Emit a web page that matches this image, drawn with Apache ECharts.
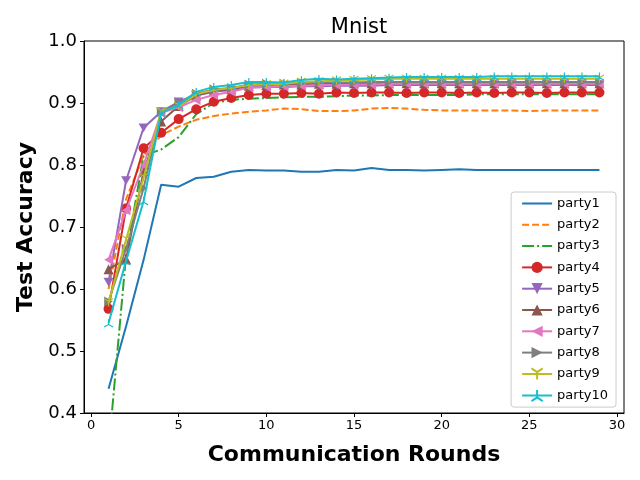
<!DOCTYPE html>
<html>
<head>
<meta charset="utf-8">
<script src="https://cdn.jsdelivr.net/npm/echarts@6/dist/echarts.min.js"></script>
<style>
    html, body { margin: 0; padding: 0; background: #fff; }
    #chart { width: 640px; height: 480px; }
</style>
</head>
<body>
<div id="chart"></div>
<script>
var rounds = [1, 2, 3, 4, 5, 6, 7, 8, 9, 10, 11, 12, 13, 14, 15, 16, 17, 18, 19, 20, 21, 22, 23, 24, 25, 26, 27, 28, 29];
var xTicks = [0, 5, 10, 15, 20, 25, 30];

var party1 = [0.439, 0.540, 0.647, 0.768, 0.765, 0.779, 0.781, 0.789, 0.792, 0.791, 0.791, 0.789, 0.789, 0.792, 0.791, 0.795, 0.792, 0.792, 0.791, 0.792, 0.793, 0.792, 0.792, 0.792, 0.792, 0.792, 0.792, 0.792, 0.792];
var party2 = [0.600, 0.745, 0.815, 0.848, 0.862, 0.873, 0.879, 0.883, 0.886, 0.888, 0.891, 0.890, 0.887, 0.887, 0.888, 0.891, 0.892, 0.891, 0.889, 0.888, 0.888, 0.888, 0.888, 0.888, 0.887, 0.888, 0.888, 0.888, 0.888];
var party3 = [0.340, 0.655, 0.815, 0.825, 0.845, 0.882, 0.900, 0.905, 0.907, 0.908, 0.909, 0.910, 0.910, 0.911, 0.912, 0.912, 0.913, 0.913, 0.913, 0.913, 0.913, 0.914, 0.914, 0.914, 0.914, 0.914, 0.914, 0.914, 0.914];
var party4 = [0.568, 0.730, 0.827, 0.852, 0.874, 0.890, 0.902, 0.908, 0.913, 0.915, 0.915, 0.916, 0.915, 0.917, 0.916, 0.917, 0.917, 0.916, 0.917, 0.917, 0.916, 0.917, 0.916, 0.917, 0.917, 0.916, 0.917, 0.917, 0.917];
var party5 = [0.611, 0.775, 0.860, 0.886, 0.902, 0.912, 0.918, 0.921, 0.925, 0.926, 0.926, 0.927, 0.927, 0.928, 0.928, 0.928, 0.929, 0.929, 0.929, 0.929, 0.929, 0.929, 0.929, 0.929, 0.929, 0.929, 0.929, 0.929, 0.929];
var party6 = [0.632, 0.648, 0.790, 0.870, 0.895, 0.912, 0.920, 0.922, 0.928, 0.929, 0.930, 0.930, 0.931, 0.931, 0.932, 0.932, 0.932, 0.932, 0.932, 0.932, 0.932, 0.932, 0.932, 0.932, 0.932, 0.932, 0.932, 0.932, 0.932];
var party7 = [0.647, 0.727, 0.800, 0.884, 0.893, 0.905, 0.913, 0.918, 0.925, 0.926, 0.927, 0.928, 0.929, 0.929, 0.930, 0.930, 0.931, 0.931, 0.931, 0.931, 0.931, 0.931, 0.931, 0.931, 0.931, 0.931, 0.931, 0.931, 0.931];
var party8 = [0.580, 0.665, 0.763, 0.885, 0.901, 0.915, 0.922, 0.924, 0.930, 0.931, 0.931, 0.932, 0.933, 0.933, 0.933, 0.934, 0.934, 0.934, 0.934, 0.934, 0.934, 0.934, 0.934, 0.934, 0.934, 0.934, 0.934, 0.934, 0.934];
var party9 = [0.578, 0.680, 0.780, 0.886, 0.895, 0.914, 0.921, 0.924, 0.929, 0.930, 0.931, 0.934, 0.935, 0.936, 0.937, 0.938, 0.939, 0.939, 0.939, 0.939, 0.939, 0.939, 0.939, 0.939, 0.939, 0.939, 0.939, 0.939, 0.939];
var party10 = [0.545, 0.645, 0.742, 0.884, 0.897, 0.918, 0.926, 0.929, 0.934, 0.934, 0.933, 0.937, 0.939, 0.938, 0.939, 0.940, 0.941, 0.942, 0.942, 0.942, 0.942, 0.942, 0.943, 0.943, 0.943, 0.943, 0.943, 0.943, 0.943];

var names = ["party1", "party2", "party3", "party4", "party5", "party6", "party7", "party8", "party9", "party10"];
var values = [party1, party2, party3, party4, party5, party6, party7, party8, party9, party10];
var colors = ["#1f77b4", "#ff7f0e", "#2ca02c", "#d62728", "#9467bd", "#8c564b", "#e377c2", "#7f7f7f", "#bcbd22", "#17becf"];

// matplotlib-like markers
var TRI_DOWN_THIN = "path://M0,0 L0,10 M0,0 L-8.66,-5 M0,0 L8.66,-5";
var TRI_UP_THIN = "path://M0,0 L0,-10 M0,0 L-8.66,5 M0,0 L8.66,5";
var TRI_LEFT = "path://M-10,0 L5,-8.66 L5,8.66 Z";
var TRI_RIGHT = "path://M10,0 L-5,-8.66 L-5,8.66 Z";
var TRI_DOWN = "path://M0,10 L-8.66,-5 L8.66,-5 Z";

var styleOf = function(i) {
    var c = colors[i];
    // no marker: invisible circle so the legend shows only the line
    var s = { symbol: "circle", show: false, size: 0, dash: "solid", item: { color: "transparent", borderWidth: 0 } };
    if (i == 1) s.dash = [7, 3];
    if (i == 2) s.dash = [12, 3, 2, 3];
    if (i >= 3) { s.show = true; s.size = 10; s.item = { color: c }; }
    if (i == 3) s.symbol = "circle";
    if (i == 4) s.symbol = TRI_DOWN;
    if (i == 5) s.symbol = "triangle";
    if (i == 6) s.symbol = TRI_LEFT;
    if (i == 7) s.symbol = TRI_RIGHT;
    if (i == 8) { s.symbol = TRI_DOWN_THIN; s.size = 9; s.item = { color: "transparent", borderColor: c, borderWidth: 1.2 }; }
    if (i == 9) { s.symbol = TRI_UP_THIN; s.size = 9; s.item = { color: "transparent", borderColor: c, borderWidth: 1.2 }; }
    return s;
};

var series = names.map(function(name, i) {
    var st = styleOf(i);
    return {
        name: name,
        type: "line",
        data: rounds.map(function(r, k) { return [r, values[i][k]]; }),
        showSymbol: st.show,
        symbol: st.symbol,
        symbolSize: st.size,
        symbolKeepAspect: true,
        lineStyle: { color: colors[i], width: 2, type: st.dash },
        itemStyle: st.item,
        clip: true,
        animation: false,
        z: 2 + i
    };
});

var chart = echarts.init(document.getElementById("chart"));
chart.setOption({
    backgroundColor: "#fff",
    animation: false,
    title: {
        text: "Mnist",
        left: 354,
        textAlign: "center",
        top: 12,
        textStyle: { fontFamily: "DejaVu Sans", fontSize: 21, fontWeight: "normal", color: "#000" }
    },
    grid: {
        left: 84, right: 16, top: 41, bottom: 67,
        show: true, borderColor: "#000", borderWidth: 1, backgroundColor: "transparent"
    },
    legend: {
        orient: "vertical",
        right: 24,
        top: 192,
        itemGap: 8.3,
        itemWidth: 30,
        itemHeight: 14,
        padding: [5, 8, 5, 10],
        backgroundColor: "#fff",
        borderColor: "#ccc",
        borderWidth: 1,
        borderRadius: 3,
        textStyle: { fontFamily: "DejaVu Sans", fontSize: 13, color: "#000" },
        data: names
    },
    xAxis: {
        type: "value",
        min: -0.4,
        max: 30.4,
        name: "Communication Rounds",
        nameLocation: "middle",
        nameGap: 31,
        nameTextStyle: { fontFamily: "DejaVu Sans", fontSize: 22, fontWeight: "bold", color: "#000" },
        splitLine: { show: false },
        axisLine: { show: true, onZero: false, lineStyle: { color: "#000", width: 1 } },
        axisTick: { show: true, inside: false, length: 4, customValues: xTicks, lineStyle: { color: "#000" } },
        axisLabel: {
            customValues: xTicks,
            margin: 6,
            fontFamily: "DejaVu Sans", fontSize: 13, color: "#000"
        }
    },
    yAxis: {
        type: "value",
        min: 0.4,
        max: 1.0,
        interval: 0.1,
        name: "Test Accuracy",
        nameLocation: "middle",
        nameGap: 47,
        nameTextStyle: { fontFamily: "DejaVu Sans", fontSize: 22, fontWeight: "bold", color: "#000" },
        splitLine: { show: false },
        axisLine: { show: true, onZero: false, lineStyle: { color: "#000", width: 1 } },
        axisTick: { show: true, inside: false, length: 4, lineStyle: { color: "#000" } },
        axisLabel: {
            margin: 7,
            fontFamily: "DejaVu Sans", fontSize: 18, color: "#000",
            formatter: function(v) { return v.toFixed(1); }
        }
    },
    series: series
});
</script>
</body>
</html>
